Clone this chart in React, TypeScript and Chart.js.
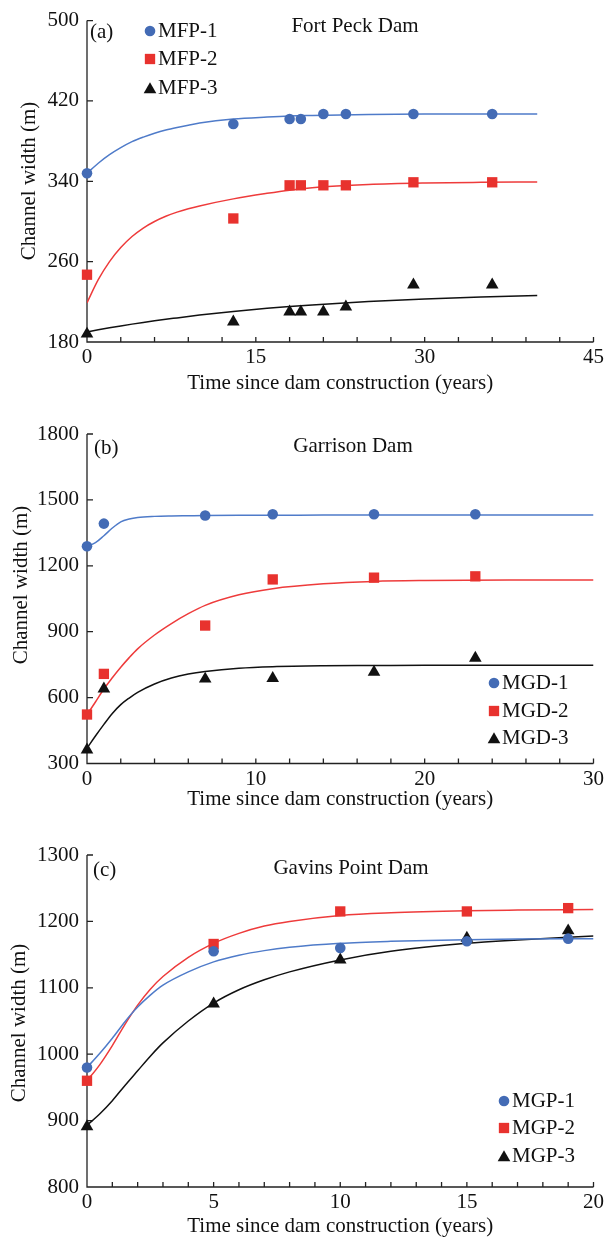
import React, { useEffect, useRef } from 'react';
import { Chart, registerables } from 'chart.js';

Chart.register(...registerables);

const FONT = '"Liberation Serif", "Times New Roman", serif';

// ---------- Panel (a) Fort Peck Dam ----------
const yearsA = [0, 13, 18, 19, 21, 23, 29, 36];
const mfp1 = [348, 397, 402, 402, 407, 407, 407, 407];
const mfp2 = [247, 303, 336, 336, 336, 336, 339, 339];
const mfp3 = [188, 200, 210, 210, 210, 215, 237, 237];
const fitYearsA = [0, 1, 2, 3, 4, 5, 6, 7, 8, 9, 10, 13, 16, 18, 20, 25, 30, 35, 40];
const fitMfp1 = [348, 358, 366.5, 373.5, 379.5, 384, 387.8, 391, 393.6, 395.9, 398, 402, 404, 405, 405.5, 406.5, 407, 407, 407];
const fitMfp2 = [219, 242, 260, 274, 285, 293.5, 300, 305.2, 309.3, 312.7, 315.5, 322.5, 328, 331.2, 333.6, 336.8, 338.3, 339, 339.4];
const fitMfp3 = [190, 192.1, 194.1, 196, 197.8, 199.5, 201.1, 202.6, 204, 205.4, 206.8, 210.4, 213.5, 215.3, 216.9, 220.3, 222.9, 224.8, 226.3];
const xTicksA = [0, 15, 30, 45];
const yTicksA = [180, 260, 340, 420, 500];

// ---------- Panel (b) Garrison Dam ----------
const yearsB = [0, 1, 7, 11, 17, 23];
const mgd1 = [1289, 1392, 1429, 1435, 1435, 1435];
const mgd2 = [523, 708, 928, 1138, 1146, 1152];
const mgd3 = [362, 640, 685, 688, 716, 780];
const fitYearsB = [0, 0.5, 1, 1.5, 2, 2.5, 3, 4, 5, 6, 7, 9, 11, 14, 17, 20, 25, 30];
const fitMgd1 = [1289, 1305, 1337, 1372, 1400, 1413, 1420, 1425, 1427, 1428, 1429, 1430, 1430, 1431, 1431, 1431, 1431, 1431];
const fitMgd2 = [522, 580, 639, 690, 738, 782, 822, 885, 937, 982, 1020, 1068, 1096, 1118, 1129, 1133, 1135, 1135];
const fitMgd3 = [370, 425, 478, 528, 568, 598, 624, 662, 689, 707, 719, 734, 741, 745, 746, 747, 747, 747];
const xTicksB = [0, 10, 20, 30];
const yTicksB = [300, 600, 900, 1200, 1500, 1800];

// ---------- Panel (c) Gavins Point Dam ----------
const yearsC = [0, 5, 10, 15, 19];
const mgp1 = [980, 1155, 1160, 1170, 1174];
const mgp2 = [960, 1166, 1215, 1215, 1220];
const mgp3 = [891, 1076, 1142, 1175, 1186];
const fitYearsC = [0, 0.5, 1, 1.5, 2, 2.5, 3, 4, 5, 6, 7, 8, 10, 12, 15, 17, 20];
const fitMgp1 = [980, 1001, 1024, 1049, 1071, 1089, 1104, 1124, 1139, 1149, 1156, 1161, 1167, 1170, 1172.5, 1173.5, 1174];
const fitMgp2 = [960, 984, 1013, 1045, 1074, 1098, 1117, 1146, 1167, 1182, 1193, 1200, 1209, 1213, 1216, 1217, 1218];
const fitMgp3 = [893, 910, 930, 953, 975, 997, 1017, 1050, 1077, 1097, 1112, 1124, 1142, 1155, 1167, 1172, 1178];
const xTicksC = [0, 5, 10, 15, 20];
const yTicksC = [800, 900, 1000, 1100, 1200, 1300];

const X_TITLE = 'Time since dam construction (years)';
const Y_TITLE = 'Channel width (m)';

const BLUE = '#436bb5';
const BLUE_LINE = '#4f7bc9';
const RED = '#e8322e';
const RED_LINE = '#ee3b3b';
const BLACK = '#111111';
const AXIS = '#222222';
const TEXT = '#111111';

type Series = {
  label: string;
  years: number[];
  values: number[];
  fitYears: number[];
  fitValues: number[];
  color: string;
  lineColor: string;
  style: 'circle' | 'rect' | 'triangle';
};

type Panel = {
  top: number;
  height: number;
  padTop: number;
  xAxisH: number;
  xTitlePad: number;
  xTicks: number[];
  xMinor: number;
  yTicks: number[];
  yTitleX: number;
  yTitleY: number;
  tag: string;
  tagX: number;
  tagY: number;
  name: string;
  nameX: number;
  nameY: number;
  legendX: number;
  legendRows: number[];
  series: Series[];
};

const radiusOf = (s: string) => (s === 'circle' ? 5.3 : 7.3);

const panels: Panel[] = [
  {
    top: 0, height: 410, padTop: 14, xAxisH: 68, xTitlePad: 14,
    xTicks: xTicksA, xMinor: 3, yTicks: yTicksA, yTitleX: 29, yTitleY: 181,
    tag: '(a)', tagX: 90, tagY: 32, name: 'Fort Peck Dam', nameX: 355, nameY: 26,
    legendX: 150, legendRows: [31, 59, 88],
    series: [
      { label: 'MFP-1', years: yearsA, values: mfp1, fitYears: fitYearsA, fitValues: fitMfp1, color: BLUE, lineColor: BLUE_LINE, style: 'circle' },
      { label: 'MFP-2', years: yearsA, values: mfp2, fitYears: fitYearsA, fitValues: fitMfp2, color: RED, lineColor: RED_LINE, style: 'rect' },
      { label: 'MFP-3', years: yearsA, values: mfp3, fitYears: fitYearsA, fitValues: fitMfp3, color: BLACK, lineColor: BLACK, style: 'triangle' },
    ],
  },
  {
    top: 410, height: 410, padTop: 24, xAxisH: 56.5, xTitlePad: 8,
    xTicks: xTicksB, xMinor: 2, yTicks: yTicksB, yTitleX: 21, yTitleY: 585,
    tag: '(b)', tagX: 94, tagY: 448, name: 'Garrison Dam', nameX: 353, nameY: 446,
    legendX: 494, legendRows: [683, 711, 738],
    series: [
      { label: 'MGD-1', years: yearsB, values: mgd1, fitYears: fitYearsB, fitValues: fitMgd1, color: BLUE, lineColor: BLUE_LINE, style: 'circle' },
      { label: 'MGD-2', years: yearsB, values: mgd2, fitYears: fitYearsB, fitValues: fitMgd2, color: RED, lineColor: RED_LINE, style: 'rect' },
      { label: 'MGD-3', years: yearsB, values: mgd3, fitYears: fitYearsB, fitValues: fitMgd3, color: BLACK, lineColor: BLACK, style: 'triangle' },
    ],
  },
  {
    top: 820, height: 423, padTop: 35, xAxisH: 56, xTitlePad: 4,
    xTicks: xTicksC, xMinor: 1, yTicks: yTicksC, yTitleX: 19, yTitleY: 1023,
    tag: '(c)', tagX: 93, tagY: 870, name: 'Gavins Point Dam', nameX: 351, nameY: 868,
    legendX: 504, legendRows: [1101, 1128, 1156],
    series: [
      { label: 'MGP-1', years: yearsC, values: mgp1, fitYears: fitYearsC, fitValues: fitMgp1, color: BLUE, lineColor: BLUE_LINE, style: 'circle' },
      { label: 'MGP-2', years: yearsC, values: mgp2, fitYears: fitYearsC, fitValues: fitMgp2, color: RED, lineColor: RED_LINE, style: 'rect' },
      { label: 'MGP-3', years: yearsC, values: mgp3, fitYears: fitYearsC, fitValues: fitMgp3, color: BLACK, lineColor: BLACK, style: 'triangle' },
    ],
  },
];

function drawMarker(ctx: CanvasRenderingContext2D, style: string, x: number, y: number, color: string) {
  const r = radiusOf(style);
  ctx.fillStyle = color;
  ctx.beginPath();
  if (style === 'circle') {
    ctx.arc(x, y, r, 0, Math.PI * 2);
  } else if (style === 'rect') {
    const s = r * Math.SQRT1_2;
    ctx.rect(x - s, y - s, 2 * s, 2 * s);
  } else {
    ctx.moveTo(x, y - r);
    ctx.lineTo(x + r * Math.sin((2 * Math.PI) / 3), y - r * Math.cos((2 * Math.PI) / 3));
    ctx.lineTo(x + r * Math.sin((4 * Math.PI) / 3), y - r * Math.cos((4 * Math.PI) / 3));
    ctx.closePath();
  }
  ctx.fill();
}

function makeDecor(p: Panel) {
  return {
    id: 'decor',
    beforeDatasetsDraw(chart: any) {
      const { ctx, chartArea: ca, scales } = chart;
      const x = scales.x;
      const y = scales.y;
      ctx.save();
      ctx.strokeStyle = AXIS;
      ctx.lineWidth = 1.3;
      ctx.beginPath();
      ctx.moveTo(ca.left, ca.top);
      ctx.lineTo(ca.left, ca.bottom);
      ctx.lineTo(ca.right, ca.bottom);
      const xMax = p.xTicks[p.xTicks.length - 1];
      for (let v = p.xTicks[0]; v <= xMax + 1e-9; v += p.xMinor) {
        const px = x.getPixelForValue(v);
        ctx.moveTo(px, ca.bottom);
        ctx.lineTo(px, ca.bottom - 5);
      }
      p.yTicks.forEach((v) => {
        const py = y.getPixelForValue(v);
        ctx.moveTo(ca.left, py);
        ctx.lineTo(ca.left + 6, py);
      });
      ctx.stroke();
      ctx.restore();
    },
    afterDraw(chart: any) {
      const { ctx } = chart;
      const top = p.top;
      ctx.save();
      ctx.fillStyle = TEXT;
      ctx.font = `21px ${FONT}`;
      ctx.textBaseline = 'middle';
      // y title
      ctx.save();
      ctx.translate(p.yTitleX, p.yTitleY - top);
      ctx.rotate(-Math.PI / 2);
      ctx.textAlign = 'center';
      ctx.fillText(Y_TITLE, 0, 0);
      ctx.restore();
      // tag and name
      ctx.textAlign = 'left';
      ctx.fillText(p.tag, p.tagX, p.tagY - top);
      ctx.textAlign = 'center';
      ctx.fillText(p.name, p.nameX, p.nameY - top);
      // legend
      p.series.forEach((s, i) => {
        const ry = p.legendRows[i] - top;
        drawMarker(ctx, s.style, p.legendX, ry + (s.style === 'triangle' ? 1.5 : 0), s.color);
        ctx.fillStyle = TEXT;
        ctx.textAlign = 'left';
        ctx.fillText(s.label, p.legendX + 8, ry);
      });
      ctx.restore();
    },
  };
}

function PanelChart({ p }: { p: Panel }) {
  const ref = useRef<HTMLCanvasElement>(null);
  useEffect(() => {
    if (!ref.current) return;
    const font = { family: FONT, size: 21 };
    const pointSets = p.series.map((s) => ({
      label: s.label,
      data: s.years.map((x, i) => ({ x, y: s.values[i] })),
      showLine: false,
      pointStyle: s.style,
      pointRadius: radiusOf(s.style),
      pointHoverRadius: radiusOf(s.style),
      pointBackgroundColor: s.color,
      pointBorderColor: s.color,
      pointBorderWidth: 0,
      backgroundColor: s.color,
      borderColor: s.color,
      clip: false as any,
      order: 0,
    }));
    const lineSets = p.series.map((s) => ({
      label: s.label + ' fit',
      data: s.fitYears.map((x, i) => ({ x, y: s.fitValues[i] })),
      showLine: true,
      pointRadius: 0,
      pointHoverRadius: 0,
      borderColor: s.lineColor,
      backgroundColor: s.lineColor,
      borderWidth: 1.5,
      cubicInterpolationMode: 'monotone' as const,
      fill: false,
      order: 1,
    }));
    const chart = new Chart(ref.current, {
      type: 'scatter',
      data: { datasets: [...pointSets, ...lineSets] as any },
      options: {
        animation: false,
        responsive: false,
        devicePixelRatio: 1,
        events: [],
        layout: { padding: { top: p.padTop, right: 12, left: 0, bottom: 0 } },
        plugins: { legend: { display: false }, tooltip: { enabled: false } },
        scales: {
          x: {
            type: 'linear',
            min: p.xTicks[0],
            max: p.xTicks[p.xTicks.length - 1],
            afterBuildTicks: (scale: any) => {
              scale.ticks = p.xTicks.map((v) => ({ value: v }));
            },
            ticks: { padding: 3, color: TEXT, font, maxRotation: 0, autoSkip: false, callback: (v: any) => String(v) },
            grid: { display: false, drawTicks: false },
            border: { display: false },
            title: { display: true, text: X_TITLE, color: TEXT, font, padding: { top: 0, bottom: p.xTitlePad } },
            afterFit: (scale: any) => {
              scale.height = p.xAxisH;
            },
          },
          y: {
            type: 'linear',
            min: p.yTicks[0],
            max: p.yTicks[p.yTicks.length - 1],
            afterBuildTicks: (scale: any) => {
              scale.ticks = p.yTicks.map((v) => ({ value: v }));
            },
            ticks: { padding: 8, color: TEXT, font, autoSkip: false, callback: (v: any) => String(v) },
            grid: { display: false, drawTicks: false },
            border: { display: false },
            afterFit: (scale: any) => {
              scale.width = 87;
            },
          },
        },
      },
      plugins: [makeDecor(p)],
    });
    return () => chart.destroy();
  }, [p]);
  return (
    <div style={{ position: 'absolute', left: 0, top: p.top, width: 607, height: p.height }}>
      <canvas ref={ref} width={607} height={p.height} style={{ width: 607, height: p.height, display: 'block' }} />
    </div>
  );
}

export default function App() {
  return (
    <div style={{ position: 'absolute', left: 0, top: 0, width: 607, height: 1243, background: '#ffffff', overflow: 'hidden' }}>
      {panels.map((p) => (
        <PanelChart key={p.tag} p={p} />
      ))}
    </div>
  );
}
